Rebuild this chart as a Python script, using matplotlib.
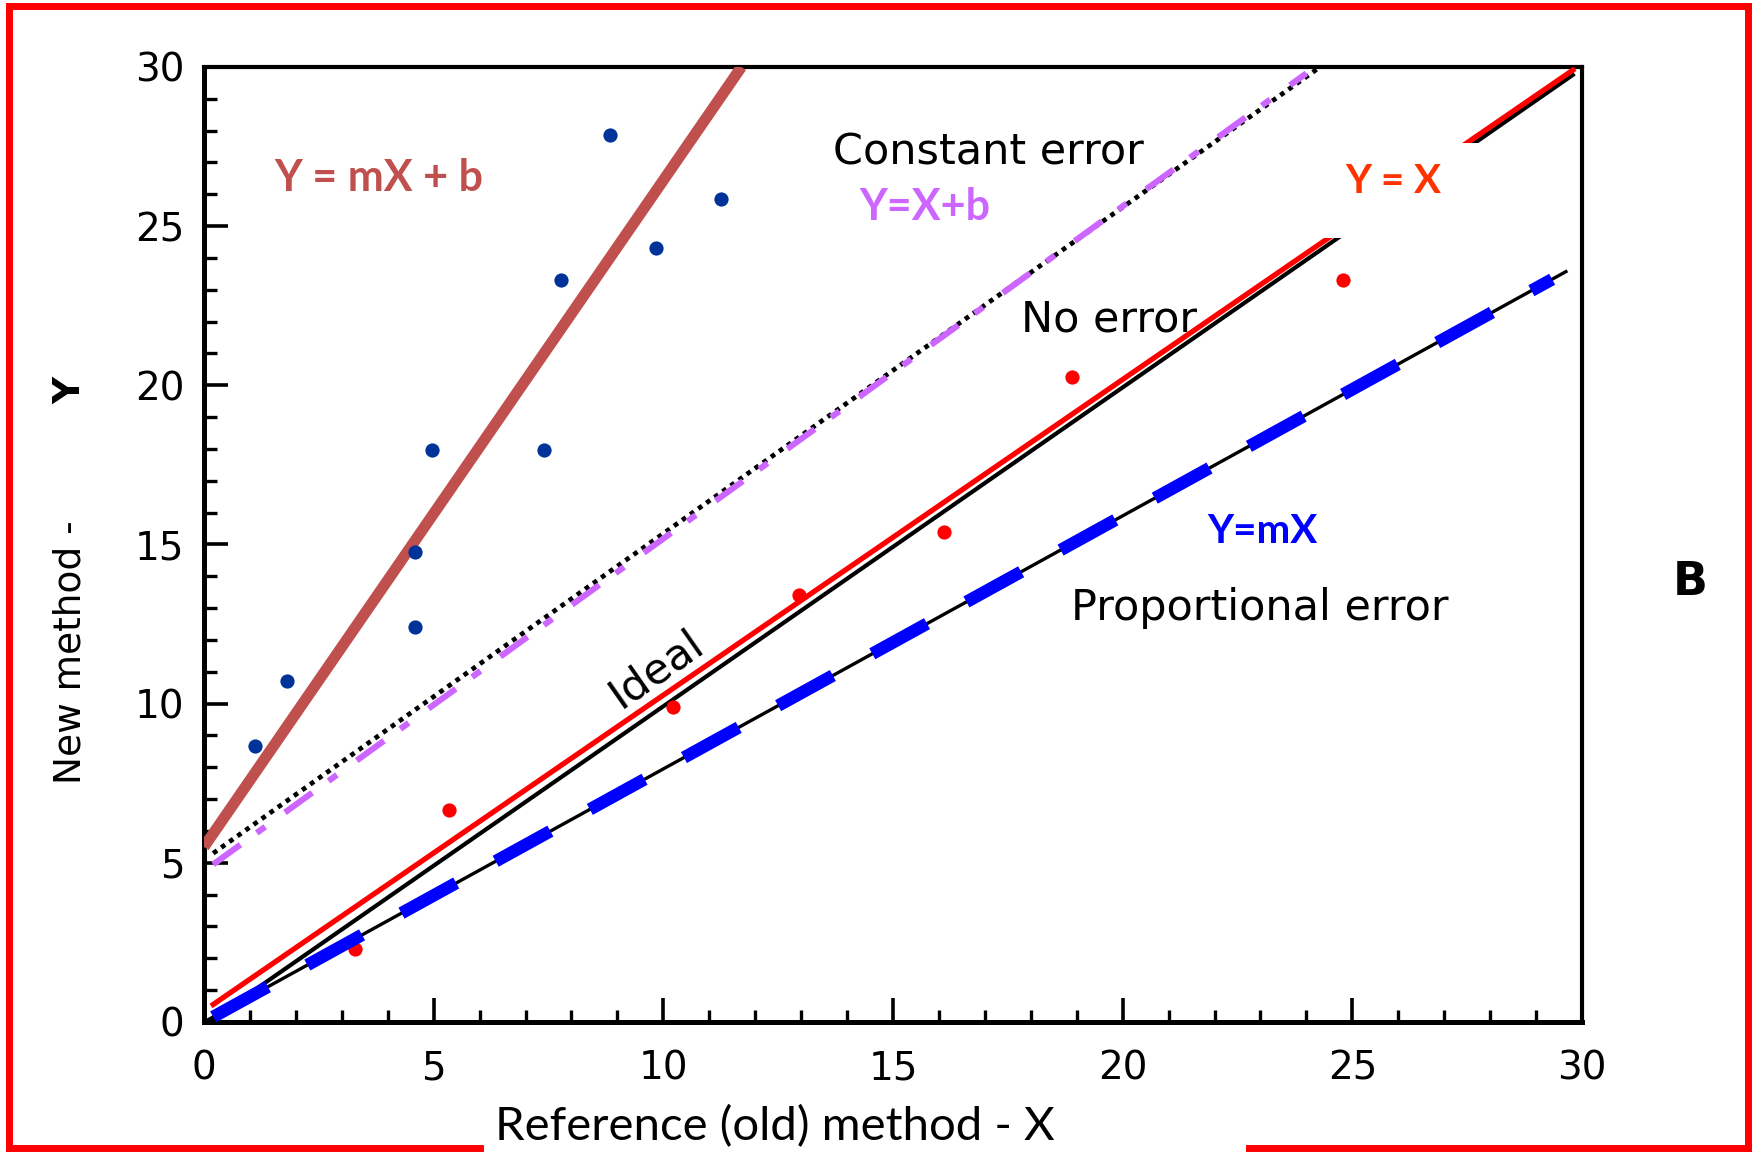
import matplotlib
matplotlib.use("Agg")
import matplotlib.pyplot as plt
from matplotlib.lines import Line2D
from matplotlib.patches import Rectangle
from matplotlib.ticker import MultipleLocator

plt.rcParams["font.family"] = ["DejaVu Sans"]

# =========================
# DATA
# =========================
# line end points: x pair, y pair
fit_x = [0.0, 11.7]          # Y = mX + b (regression of blue points)
fit_y = [5.5, 30.0]
const_x = [0.2, 24.3]        # constant error (black dotted)
const_y = [5.3, 30.0]
xb_x = [0.2, 24.0]           # Y = X + b (purple dash-dot)
xb_y = [4.95, 29.8]
yx_x = [0.2, 29.8]           # Y = X (red)
yx_y = [0.55, 29.9]
ideal_x = [0.2, 29.8]        # ideal / no error (black)
ideal_y = [0.1, 29.75]
prop_x = [0.0, 29.65]        # proportional error (black thin)
prop_y = [0.0, 23.57]
mx_x = [0.2, 29.35]          # Y = mX (blue dashes)
mx_y = [0.16, 23.33]

blue_x = [1.12, 1.81, 4.6, 4.6, 4.96, 7.41, 7.78, 8.83, 9.85, 11.25]
blue_y = [8.68, 10.7, 12.4, 14.75, 17.97, 17.97, 23.3, 27.85, 24.3, 25.84]

red_x = [3.28, 5.33, 10.2, 12.96, 16.1, 18.9, 24.8]
red_y = [2.3, 6.67, 9.88, 13.4, 15.4, 20.26, 23.3]

ticks = [0, 5, 10, 15, 20, 25, 30]

# =========================
# FIGURE
# =========================
fig = plt.figure(figsize=(17.57, 11.54), dpi=100)
ax = fig.add_axes([0.1161, 0.1144, 0.7843, 0.8276])
ax.set_xlim(0, 30)
ax.set_ylim(0, 30)

ax.plot(fit_x, fit_y, color="#C0504D", lw=8, solid_capstyle="butt", zorder=3)
ax.plot(const_x, const_y, color="black", lw=3.4, dashes=(1, 1.1), zorder=3)
ax.plot(xb_x, xb_y, color="#CC66FF", lw=4.4, dashes=(5.5, 3.3, 1.7, 4.0), zorder=4)
ax.plot(ideal_x, ideal_y, color="black", lw=3.0, zorder=3)
ax.plot(yx_x, yx_y, color="#FF0000", lw=3.8, zorder=4)
ax.plot(prop_x, prop_y, color="black", lw=2.4, zorder=3)

ax.scatter(blue_x, blue_y, s=105, color="#003399", zorder=5, linewidths=0)
ax.scatter(red_x, red_y, s=105, color="#FF0000", zorder=5, linewidths=0)

ax.plot(mx_x, mx_y, color="#0000FF", lw=9, dashes=(5.0, 3.6), zorder=6)

# white patch behind the "Y = X" label (cuts the ideal lines)
ax.add_patch(Rectangle((23.8, 24.64), 5.7, 2.96, facecolor="white",
                       edgecolor="none", zorder=7))

# =========================
# LABELS INSIDE
# =========================
ax.text(3.8, 26.5, "Y = mX + b", color="#C0504D", fontsize=31,
        fontweight="bold", family="Lato", ha="center", va="center", zorder=8)
ax.text(17.07, 27.3, "Constant error", fontsize=31, ha="center", va="center", zorder=8)
ax.text(15.7, 25.6, "Y=X+b", color="#CC66FF", fontsize=31, fontweight="bold",
        family="Lato", ha="center", va="center", zorder=8)
ax.text(19.7, 22.06, "No error", fontsize=31, ha="center", va="center", zorder=8)
ax.text(25.9, 26.4, "Y = X", color="#FF3300", fontsize=29, fontweight="bold",
        family="Lato", ha="center", va="center", zorder=8)
ax.text(9.85, 11.1, "Ideal", fontsize=31, rotation=35, ha="center", va="center",
        rotation_mode="anchor", zorder=8)
ax.text(23.05, 15.4, "Y=mX", color="#0000FF", fontsize=29, fontweight="bold",
        family="Lato", ha="center", va="center", zorder=8)
ax.text(22.98, 13.0, "Proportional error", fontsize=31, ha="center", va="center", zorder=8)

# =========================
# AXES STYLE
# =========================
ax.set_xticks(ticks)
ax.set_yticks(ticks)
ax.xaxis.set_minor_locator(MultipleLocator(1))
ax.yaxis.set_minor_locator(MultipleLocator(1))
ax.tick_params(which="major", direction="in", length=17, width=2.6, labelsize=28)
ax.tick_params(which="minor", direction="in", length=9, width=2.4)
ax.tick_params(axis="x", pad=20)
ax.tick_params(axis="y", pad=14)
for side in ["left", "bottom"]:
    ax.spines[side].set_linewidth(3.6)
for side in ["top", "right"]:
    ax.spines[side].set_linewidth(3.0)

fig.text(0.441, 0.024, "Reference (old) method - X", fontsize=34, family="Lato",
         ha="center", va="center")
fig.text(0.040, 0.435, "New method -", fontsize=27, rotation=90,
         ha="center", va="center")
fig.text(0.040, 0.662, "Y", fontsize=27, fontweight="bold", rotation=90,
         ha="center", va="center")
fig.text(0.962, 0.495, "B", fontsize=33, fontweight="bold", ha="center", va="center")

# =========================
# RED FRAME
# =========================
red = "#FF0000"
frame = [
    ([0.005, 0.005], [0.005, 0.995]),
    ([0.005, 0.995], [0.995, 0.995]),
    ([0.995, 0.995], [0.995, 0.005]),
    ([0.005, 0.273], [0.005, 0.005]),
    ([0.711, 0.995], [0.005, 0.005]),
]
for fx, fy in frame:
    fig.add_artist(Line2D(fx, fy, color=red, lw=5, transform=fig.transFigure,
                          solid_capstyle="projecting"))

fig.savefig("out.png", dpi=100)
plt.close()
